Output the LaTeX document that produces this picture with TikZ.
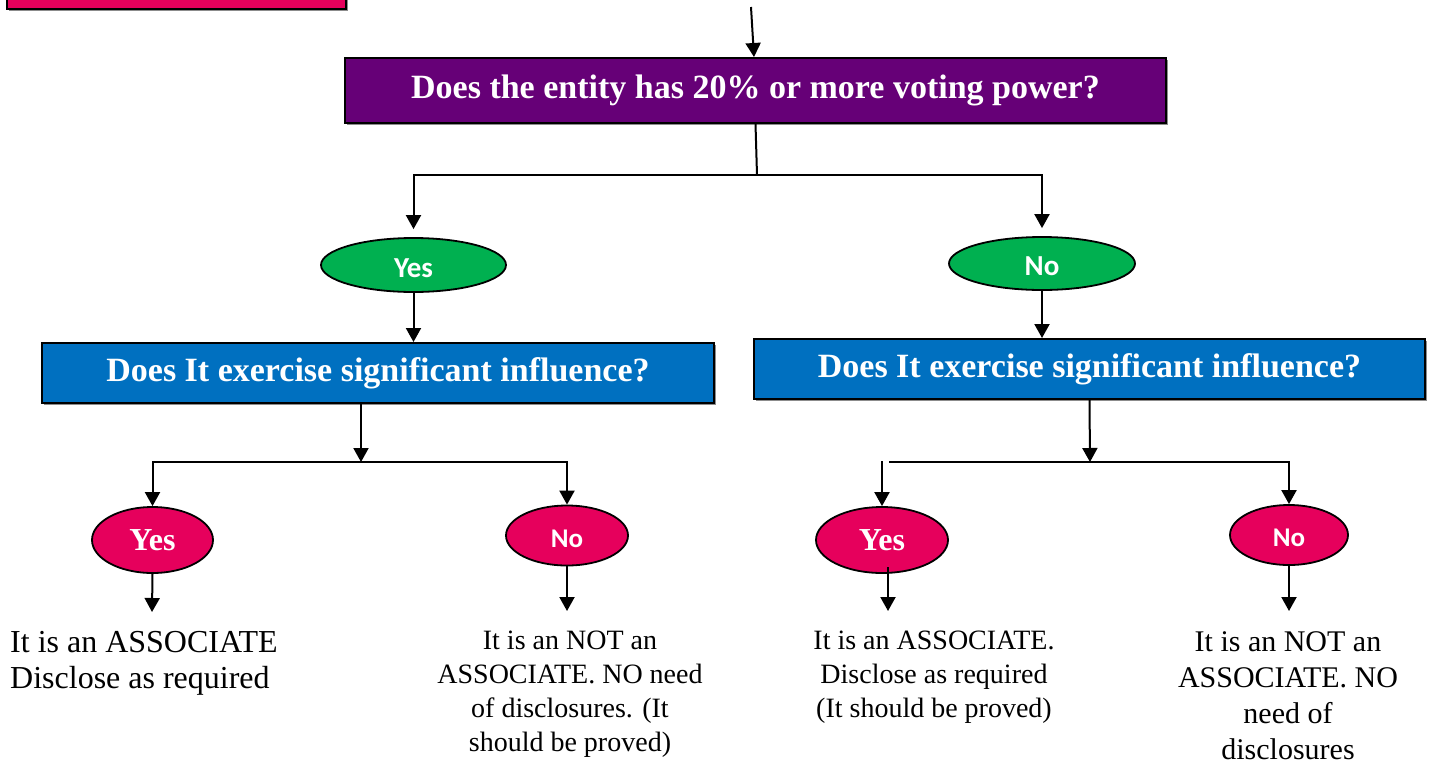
\documentclass[tikz,border=0pt]{standalone}
\usepackage{fontspec}
\setmainfont{Liberation Serif}
\newfontfamily\calfont{Carlito}
\usetikzlibrary{shapes.geometric,arrows.meta,shadows}
\definecolor{qpink}{HTML}{E6005C}
\definecolor{qpurple}{HTML}{660077}
\definecolor{qblue}{HTML}{0070C0}
\definecolor{qgreen}{HTML}{00B050}
\begin{document}
\begin{tikzpicture}[x=1pt,y=-1pt,
  qbox/.style={draw=black, line width=2pt, text=white, inner sep=0pt,
    font=\bfseries\fontsize{34}{40}\selectfont,
    drop shadow={shadow xshift=2pt,shadow yshift=-2pt,fill=black!45,opacity=1}},
  oval/.style={ellipse, draw=black, line width=1.8pt, inner sep=0pt, text=white},
  calbold/.style={font=\calfont\bfseries\fontsize{29}{29}\selectfont},
  serbold/.style={font=\bfseries\fontsize{32}{32}\selectfont},
  arr/.style={line width=2pt, -{Triangle[length=14pt,width=15pt]}},
  link/.style={line width=2pt},
  verdict/.style={inner sep=0pt, align=center}]
\useasboundingbox (0,0) rectangle (1430,764);
\clip (0,0) rectangle (1430,764);

% banner at the top left edge
\node[qbox, fill=qpink, minimum width=339pt, minimum height=40pt] (banner) at (176.5,-11) {};

% question boxes
\node[qbox, fill=qpurple, minimum width=821pt, minimum height=65pt] (q1) at (755.5,90.5)
  {Does the entity has 20\% or more voting power?};
\node[qbox, fill=qblue, minimum width=672pt, minimum height=60pt] (qL) at (378,373)
  {Does It exercise significant influence?};
\node[qbox, fill=qblue, minimum width=671pt, minimum height=60pt] (qR) at (1089.5,369)
  {Does It exercise significant influence?};

% first answers
\node[oval, fill=qgreen, minimum width=185pt, minimum height=54pt] (yes1) at (413.5,265) {};
\node[calbold, text=white, yshift=-3pt] (yes1t) at (yes1) {Yes};
\node[oval, fill=qgreen, minimum width=186pt, minimum height=53pt] (no1) at (1042,263.5) {};
\node[calbold, text=white, yshift=-3pt] (no1t) at (no1) {No};

% second answers
\node[oval, serbold, fill=qpink, minimum width=121pt, minimum height=66pt] (yesL) at (152.5,540) {Yes};
\node[oval, fill=qpink, minimum width=122pt, minimum height=60pt] (noL) at (567,535.5) {};
\node[font=\calfont\bfseries\fontsize{27}{27}\selectfont, text=white, yshift=-3pt] (noLt) at (noL) {No};
\node[oval, serbold, fill=qpink, minimum width=132pt, minimum height=66pt] (yesR) at (882,540) {Yes};
\node[oval, fill=qpink, minimum width=118pt, minimum height=60pt] (noR) at (1289,535) {};
\node[font=\calfont\bfseries\fontsize{27}{27}\selectfont, text=white, yshift=-3pt] (noRt) at (noR) {No};

% conclusions
\node[verdict, anchor=north west, align=left, font=\fontsize{32}{36}\selectfont] (tL) at (10,631)
  {It is an ASSOCIATE\\Disclose as required};
\node[verdict, anchor=north, font=\fontsize{28}{34}\selectfont] (tLn) at (570,631)
  {It is an NOT an\\ASSOCIATE. NO need\\of disclosures. (It\\should be proved)};
\node[verdict, anchor=north, font=\fontsize{28}{34}\selectfont] (tR) at (934,631)
  {It is an ASSOCIATE.\\Disclose as required\\(It should be proved)};
\node[verdict, anchor=north, font=\fontsize{30}{36}\selectfont] (tRn) at (1288,631)
  {It is an NOT an\\ASSOCIATE. NO\\need of\\disclosures};

% junction points and free ends
\coordinate (top) at (751,7);
\coordinate (j1) at (757,175);
\coordinate (jL) at (361,462);
\coordinate (jR) at (1090,462);
\coordinate (hR) at (889,462);
\coordinate (dR) at (882,461);
\coordinate (sR) at (888,567);
\coordinate (eL) at (152,612);
\coordinate (eLn) at (567,611);
\coordinate (eR) at (888,611);
\coordinate (eRn) at (1289,611);

% connectors
\draw[arr] (top) -- ([xshift=-1.5pt]q1.north);
\draw[link] (q1.south) -- (j1);
\draw[arr, shorten >=8pt] (j1) -| (yes1.north);
\draw[arr, shorten >=8pt] (j1) -| (no1.north);
\draw[arr] (yes1.south) -- (yes1.south |- qL.north);
\draw[arr] (no1.south) -- (no1.south |- qR.north);

\draw[arr] (jL |- qL.south) -- (jL);
\draw[arr] (jL) -| (yesL.north);
\draw[arr] (jL) -| (noL.north);

\draw[arr] (qR.south) -- (jR);
\draw[link] (hR) -- (jR);
\draw[arr] (jR) -| (noR.north);
\draw[arr] (dR) -- (yesR.north);

\draw[arr] (yesL.south) -- (eL);
\draw[arr] (noL.south) -- (eLn);
\draw[arr] (sR) -- (eR);
\draw[arr] (noR.south) -- (eRn);
\end{tikzpicture}
\end{document}
